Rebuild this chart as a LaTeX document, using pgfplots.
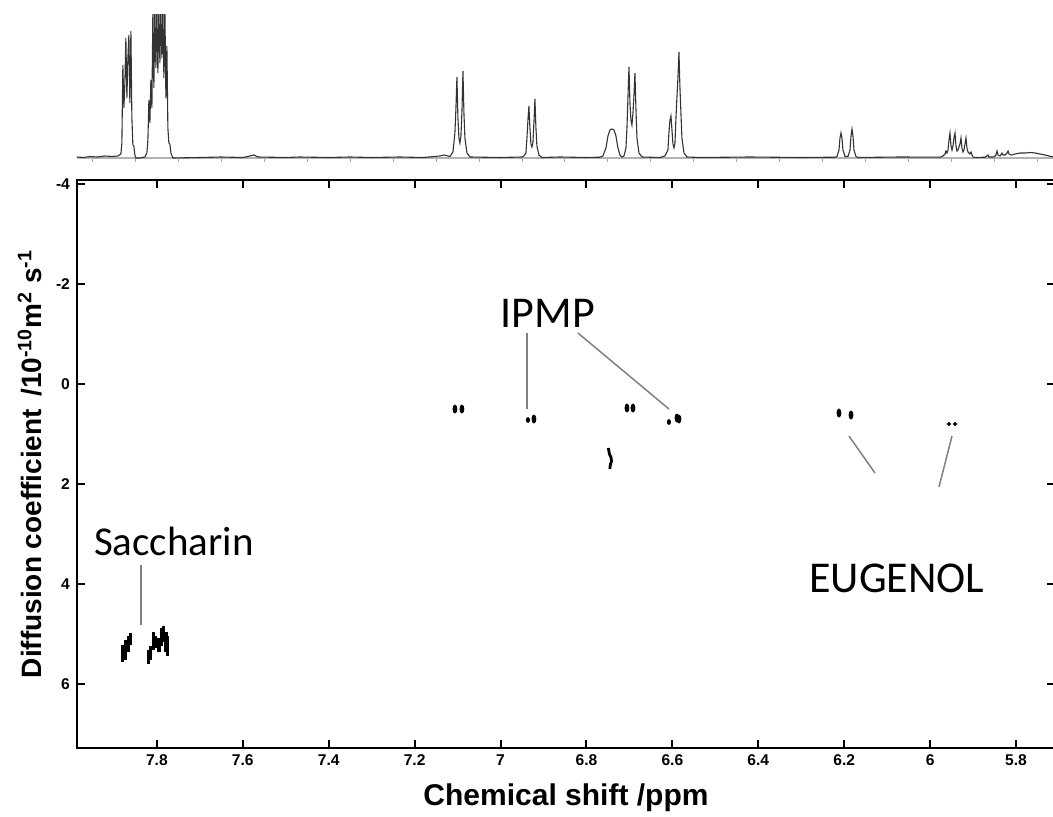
\documentclass[border=0pt]{standalone}
\usepackage{fontspec}
\setmainfont{Liberation Sans}
\newfontfamily\calib{Carlito}
\usepackage{pgfplots}
\pgfplotsset{compat=1.18}
\newcommand\tickfont{\fontsize{7.8}{9}\selectfont\bfseries}

\begin{document}
\begin{tikzpicture}
\useasboundingbox (0,0) rectangle (526.5pt,408pt);

% 1D proton spectrum on top (heights in arbitrary units)
\begin{axis}[
  at={(38.5pt,325pt)},anchor=south west,scale only axis,
  width=489pt,height=75.5pt,
  x dir=reverse,xmin=5.7092,xmax=7.986,ymin=-8,ymax=143,
  axis x line=middle,hide y axis,
  x axis line style={-,gray!60,line width=0.6pt},
  xtick={5.75,5.85,...,7.96},xticklabels={},
  tick align=outside,major tick length=1.8pt,
  x tick style={gray!70,line width=0.5pt},
]
\addplot[black!80,line width=0.55pt] coordinates {
(7.9863,1)(7.9700,0.5)(7.9560,1.5)(7.9400,1)(7.9211,2)(7.9050,1.5)(7.8908,2)
(7.8838,4)(7.8815,15)(7.8792,93)(7.8768,50)(7.8745,75)(7.8722,120)(7.8698,60)
(7.8675,100)(7.8652,123)(7.8629,55)(7.8605,127)(7.8582,40)(7.8559,13)(7.8536,12)
(7.8513,3)(7.8489,0)(7.8396,0)(7.8279,1)(7.8233,5)(7.8209,18)(7.8186,58)(7.8163,35)
(7.8140,78)(7.8116,50)(7.8093,150)(7.8070,70)(7.8047,150)(7.8023,90)(7.8000,150)
(7.7977,85)(7.7953,150)(7.7930,95)(7.7907,150)(7.7884,100)(7.7860,150)(7.7837,80)
(7.7814,150)(7.7790,60)(7.7767,112)(7.7744,30)(7.7721,15)(7.7697,14)(7.7674,5)
(7.7627,0)(7.7000,0.5)(7.6500,1)(7.6000,0.5)(7.5835,2)(7.5742,3)(7.5648,1)
(7.5000,0.5)(7.4671,1)(7.4000,0.5)(7.3506,1)(7.3000,0.5)(7.2342,1)(7.1800,0.5)
(7.1411,2)(7.1318,3)(7.1225,2)(7.1178,1.5)(7.1108,6)(7.1062,25)(7.1038,50)
(7.1015,81)(7.0992,40)(7.0968,20)(7.0945,15)(7.0922,22)(7.0899,45)(7.0875,87)
(7.0852,45)(7.0829,20)(7.0782,5)(7.0712,1)(7.0014,0.5)(6.9502,1)(6.9455,2)
(6.9409,5)(6.9385,20)(6.9362,38)(6.9339,52)(6.9316,30)(6.9292,14)(6.9269,11)
(6.9246,15)(6.9223,35)(6.9199,59)(6.9176,30)(6.9153,12)(6.9106,3)(6.9036,0.5)
(6.8617,1)(6.8000,0.5)(6.7686,0.8)(6.7616,2)(6.7546,10)(6.7499,22)(6.7453,28)
(6.7406,29)(6.7360,28)(6.7313,22)(6.7267,10)(6.7220,3)(6.7174,1)(6.7127,2)
(6.7080,10)(6.7057,30)(6.7034,60)(6.7010,91)(6.6987,55)(6.6964,38)(6.6941,33)
(6.6917,45)(6.6894,62)(6.6871,85)(6.6848,50)(6.6824,20)(6.6778,5)(6.6708,1)
(6.6289,0.5)(6.6172,2)(6.6103,8)(6.6080,25)(6.6056,38)(6.6032,42)(6.6009,28)
(6.5986,14)(6.5963,10)(6.5939,15)(6.5916,40)(6.5893,61)(6.5870,80)(6.5846,106)
(6.5823,70)(6.5800,45)(6.5777,20)(6.5730,5)(6.5660,1)(6.5357,0.5)(6.4193,1)
(6.3029,0.5)(6.2214,0.8)(6.2167,1.5)(6.2121,8)(6.2098,20)(6.2074,25)(6.2051,20)
(6.2028,8)(6.1981,1.5)(6.1911,1.5)(6.1865,8)(6.1841,22)(6.1818,29)(6.1795,22)
(6.1772,8)(6.1725,1.5)(6.1679,0.5)(6.0701,1)(5.9769,0.8)(5.9699,2)(5.9653,4)
(5.9630,7)(5.9607,5)(5.9583,8)(5.9560,18)(5.9537,25)(5.9513,12)(5.9490,8)
(5.9467,12)(5.9444,20)(5.9420,25)(5.9397,12)(5.9374,7)(5.9351,8)(5.9304,14)
(5.9281,20)(5.9258,10)(5.9234,6)(5.9211,8)(5.9188,14)(5.9164,20)(5.9141,10)
(5.9118,6)(5.9071,4)(5.9048,6)(5.9024,3)(5.9001,1)(5.8931,0.5)(5.8722,0.8)
(5.8675,2)(5.8652,3)(5.8629,1)(5.8513,1)(5.8466,3)(5.8442,7)(5.8419,3)(5.8372,2)
(5.8326,5)(5.8302,3)(5.8256,3)(5.8209,5)(5.8186,7)(5.8163,4)(5.8116,3)(5.8023,4)
(5.7900,5)(5.7791,5)(5.7650,5.5)(5.7558,5)(5.7440,4)(5.7325,3)(5.7138,1)};
\end{axis}

% DOSY map
\begin{axis}[
  at={(38.5pt,34pt)},anchor=south west,scale only axis,
  width=489pt,height=284pt,
  x dir=reverse,y dir=reverse,
  xmin=5.7092,xmax=7.986,ymin=-4.08,ymax=7.28,
  xtick={5.8,6,...,7.81},ytick={-4,-2,...,6},
  xticklabel pos=left,yticklabel pos=left,
  tick align=inside,major tick length=4pt,
  every tick/.style={black,line width=1pt},
  axis line style={line width=1pt},
  /pgf/number format/assume math mode=true,
  ticklabel style={font=\tickfont},
  xlabel={Chemical shift /ppm},
  ylabel={Diffusion coefficient \,/10\textsuperscript{-10}m\textsuperscript{2} s\textsuperscript{-1}},
  xlabel style={font=\bfseries\fontsize{15}{18}\selectfont,yshift=-2pt},
  ylabel style={font=\bfseries\fontsize{14}{17}\selectfont},
]
% saccharin streaks
\addplot[black,line width=1.6pt,unbounded coords=jump] coordinates {
(7.8792,5.22)(7.8792,5.56)(7.8792,nan)
(7.8722,5.12)(7.8722,5.52)(7.8722,nan)
(7.8652,5.04)(7.8652,5.36)(7.8652,nan)
(7.8605,4.98)(7.8605,5.22)(7.8605,nan)
(7.8186,5.32)(7.8186,5.60)(7.8186,nan)
(7.8140,5.24)(7.8140,5.52)(7.8140,nan)
(7.8070,4.96)(7.8070,5.32)(7.8070,nan)
(7.8023,5.04)(7.8023,5.28)(7.8023,nan)
(7.7953,5.08)(7.7953,5.36)(7.7953,nan)
(7.7884,4.88)(7.7884,5.24)(7.7884,nan)
(7.7837,4.84)(7.7837,5.16)(7.7837,nan)
(7.7790,4.96)(7.7790,5.36)(7.7790,nan)
(7.7744,5.04)(7.7744,5.44)};
% IPMP / other cross peaks
\addplot[only marks,mark=*,black,mark size=1pt,mark options={yscale=2}] coordinates {
(7.1062,0.50)(7.0899,0.50)(6.9223,0.70)(6.7057,0.48)(6.6917,0.48)
(6.5893,0.68)(6.5846,0.70)(6.2121,0.58)(6.1841,0.62)};
\addplot[only marks,mark=*,black,mark size=0.8pt,mark options={yscale=1.5}] coordinates {
(6.9362,0.72)(6.6080,0.76)};
\addplot[only marks,mark=*,black,mark size=0.8pt] coordinates {
(5.9560,0.80)(5.9420,0.80)};
\addplot[black,line width=1.4pt] coordinates {
(6.7490,1.28)(6.7465,1.40)(6.7430,1.46)(6.7415,1.54)(6.7445,1.62)(6.7455,1.70)};
% annotations
\draw[gray,line width=0.75pt] (axis cs:6.9385,-1.02) -- (axis cs:6.9385,0.50);
\draw[gray,line width=0.75pt] (axis cs:6.8198,-1.02) -- (axis cs:6.6079,0.50);
\draw[gray,line width=0.75pt] (axis cs:7.8373,3.62) -- (axis cs:7.8373,4.82);
\draw[gray,line width=0.75pt] (axis cs:6.1888,1.04) -- (axis cs:6.1283,1.78);
\draw[gray,line width=0.75pt] (axis cs:5.9490,1.04) -- (axis cs:5.9793,2.06);
\node[anchor=base,font=\calib\fontsize{20.5}{24}\selectfont] at (axis cs:7.7604,3.42) {Saccharin};
\node[anchor=base,font=\calib\fontsize{22}{26}\selectfont] at (axis cs:6.8896,-1.14) {IPMP};
\node[anchor=base,font=\calib\fontsize{22}{26}\selectfont] at (axis cs:6.0771,4.16) {EUGENOL};
\end{axis}
\end{tikzpicture}
\end{document}
